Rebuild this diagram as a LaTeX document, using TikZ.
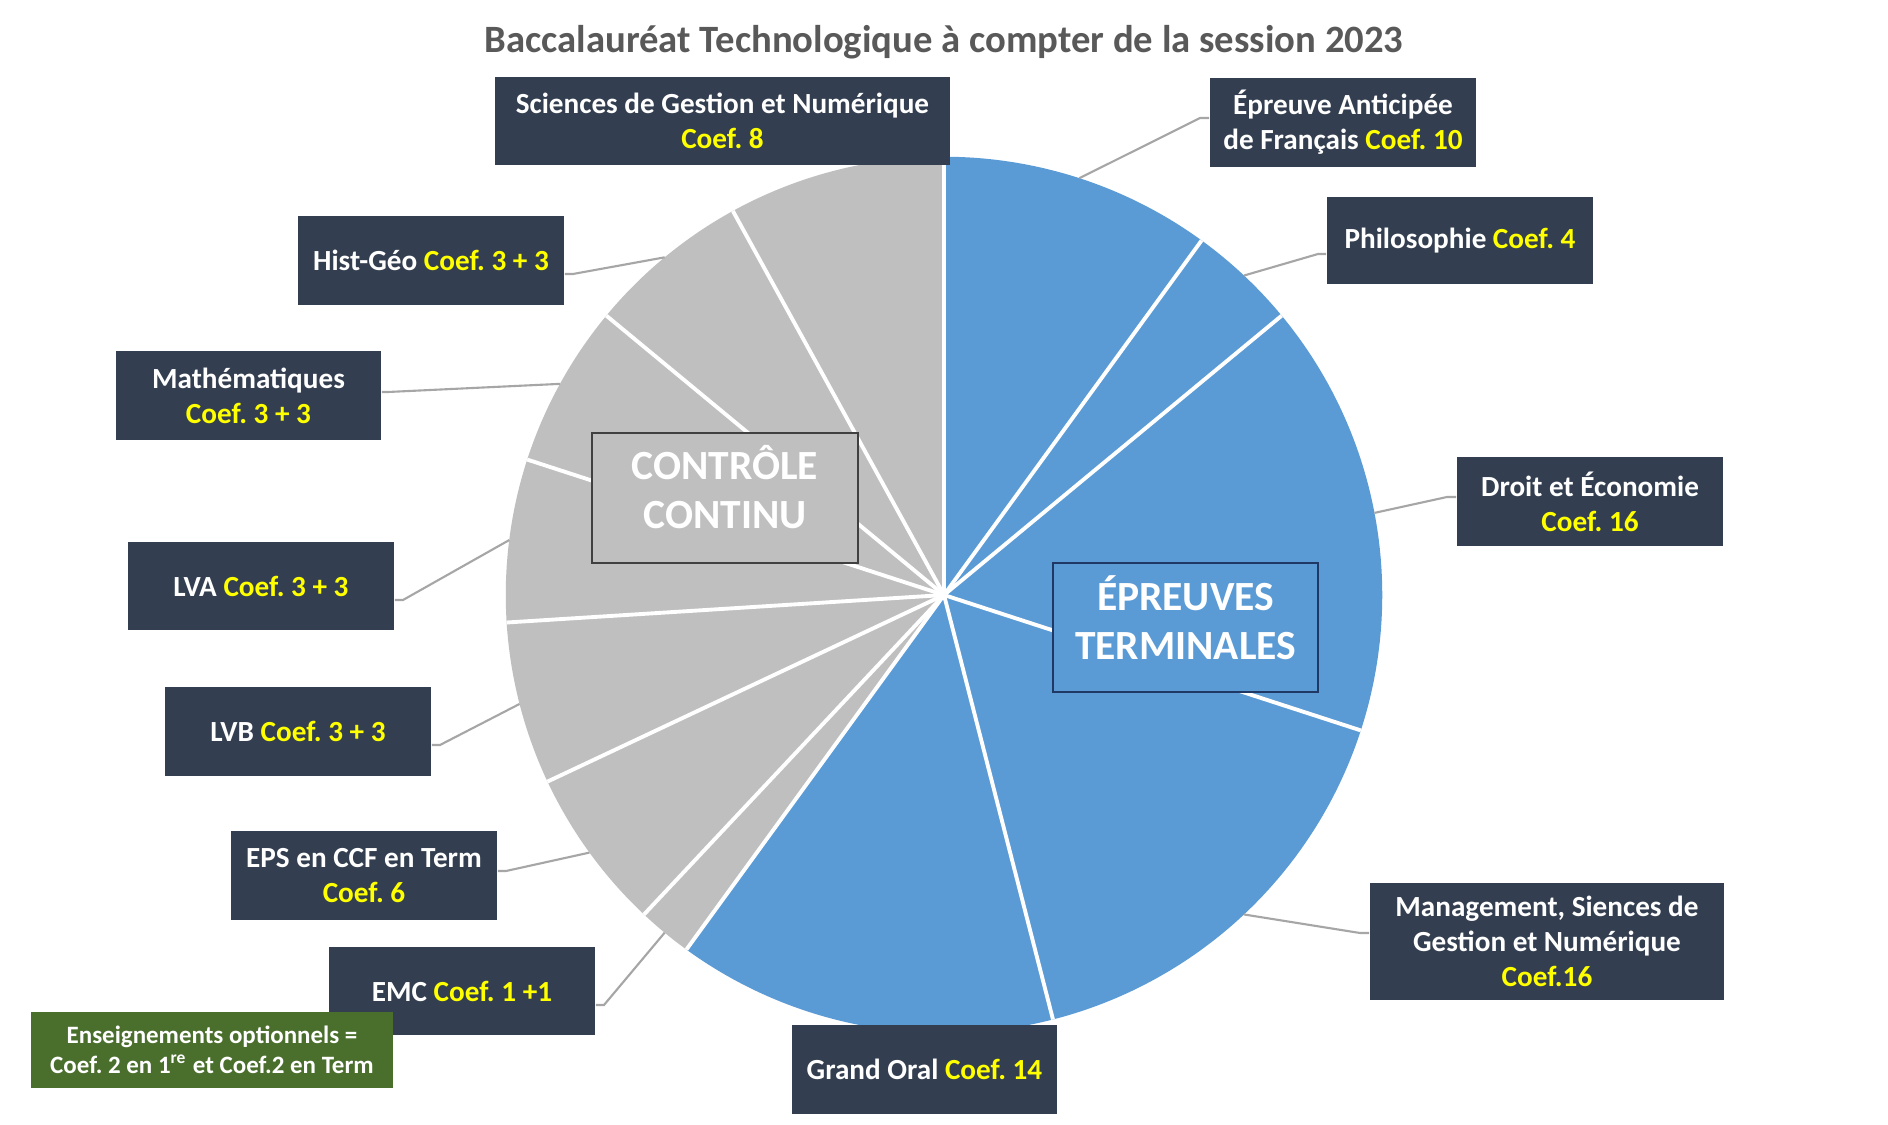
\documentclass[tikz,border=0pt]{standalone}
\usepackage{fontspec}
\setmainfont{Carlito}
\definecolor{piebl}{HTML}{5B9BD5}
\definecolor{piegr}{HTML}{BFBFBF}
\definecolor{lab}{HTML}{333F50}
\definecolor{yel}{HTML}{FFFF00}
\definecolor{grn}{HTML}{4A6E2C}
\definecolor{ttl}{HTML}{595959}
\definecolor{lead}{HTML}{A6A6A6}
\definecolor{etb}{HTML}{1F3864}
\definecolor{ccb}{HTML}{404040}
\newcommand{\cf}[1]{\textcolor{yel}{#1}}
\newcommand{\myslice}[3]{\fill[#3] (c) -- ++(#1:4.38cm) arc[start angle=#1, end angle=#2, radius=4.38cm] -- cycle;}
\frenchspacing
\begin{document}
\begin{tikzpicture}[x=0.01cm,y=0.01cm,
  lbl/.style={fill=lab, text=white, font=\bfseries\fontsize{8.3}{10}\selectfont, align=center, inner sep=0pt, minimum width=2.66cm, minimum height=0.89cm},
  leader/.style={draw=lead, line width=0.6pt},
  sepline/.style={draw=white, line width=1.1pt},
  bigbox/.style={inner sep=0pt, line width=0.6pt, minimum width=2.66cm, minimum height=1.30cm},
  bigtext/.style={text=white, font=\bfseries\fontsize{11.8}{14}\selectfont, align=center, inner sep=0pt}]
\useasboundingbox (0,0) rectangle (1888,-1125);
\fill[white] (0,0) rectangle (1888,-1125);

\node[text=ttl, font=\bfseries\fontsize{11}{13}\selectfont] (title) at (944,-42) {Baccalauréat Technologique à compter de la session 2023};

\coordinate (c) at (944,-595);
% pie slices
\myslice{90}{54}{piebl}
\myslice{54}{39.6}{piebl}
\myslice{39.6}{-18}{piebl}
\myslice{-18}{-75.6}{piebl}
\myslice{-75.6}{-126}{piebl}
\myslice{-126}{-133.2}{piegr}
\myslice{-133.2}{-154.8}{piegr}
\myslice{-154.8}{-176.4}{piegr}
\myslice{-176.4}{-198}{piegr}
\myslice{-198}{-219.6}{piegr}
\myslice{-219.6}{-241.2}{piegr}
\myslice{-241.2}{-270}{piegr}
\foreach \a in {90,54,39.6,-18,-75.6,-126,-133.2,-154.8,-176.4,-198,-219.6,-241.2}
  \draw[sepline] (c) -- ++(\a:4.38cm);

% centre labels
\node[bigbox, fill=piegr, draw=ccb] (cc) at (725,-498) {};
\node[bigtext] (ccT) at ([yshift=0.11cm]cc.center) {CONTRÔLE\\CONTINU};
\node[bigbox, fill=piebl, draw=etb, minimum width=2.65cm, minimum height=1.29cm] (et) at (1185.5,-627.5) {};
\node[bigtext] (etT) at ([yshift=0.10cm]et.center) {ÉPREUVES\\TERMINALES};

% label boxes
\node[lbl, minimum width=4.55cm, minimum height=0.88cm] (bSGN) at (722.5,-121) {Sciences de Gestion et Numérique\\\cf{Coef. 8}};
\node[lbl] (bFr) at (1343,-122.5) {Épreuve Anticipée\\de Français \cf{Coef. 10}};
\node[lbl, minimum height=0.87cm] (bPh) at (1460,-240.5) {Philosophie \cf{Coef. 4}};
\node[lbl] (bDr) at (1590,-501.5) {Droit et Économie\\\cf{Coef. 16}};
\node[lbl, minimum width=3.54cm, minimum height=1.17cm] (bMg) at (1547,-941.5) {Management, Siences de\\Gestion et Numérique\\\cf{Coef.16}};
\node[lbl, minimum width=2.65cm] (bGO) at (924.5,-1069.5) {Grand Oral \cf{Coef. 14}};
\node[lbl, minimum height=0.88cm] (bEMC) at (462,-991) {EMC \cf{Coef. 1 +1}};
\node[lbl] (bEPS) at (364,-875.5) {EPS en CCF en Term\\\cf{Coef. 6}};
\node[lbl] (bLVB) at (298,-731.5) {LVB \cf{Coef. 3 + 3}};
\node[lbl, minimum height=0.88cm] (bLVA) at (261,-586) {LVA \cf{Coef. 3 + 3}};
\node[lbl, minimum width=2.65cm] (bMa) at (248.5,-395.5) {Mathématiques\\\cf{Coef. 3 + 3}};
\node[lbl] (bHG) at (431,-260.5) {Hist-Géo \cf{Coef. 3 + 3}};
\node[fill=grn, text=white, font=\bfseries\fontsize{7.1}{8.6}\selectfont, align=center, inner sep=0pt, minimum width=3.62cm, minimum height=0.76cm] (opt) at (212,-1050) {Enseignements optionnels =\\Coef. 2 en 1\textsuperscript{re} et Coef.2 en Term};

% leader lines
\path (c) ++(72:4.38cm) coordinate (pFr);
\path (c) ++(46.8:4.38cm) coordinate (pPh);
\path (c) ++(10.8:4.38cm) coordinate (pDr);
\path (c) ++(-46.8:4.38cm) coordinate (pMg);
\path (c) ++(-129.6:4.38cm) coordinate (pEMC);
\path (c) ++(-144:4.38cm) coordinate (pEPS);
\path (c) ++(-165.6:4.38cm) coordinate (pLVB);
\path (c) ++(172.8:4.38cm) coordinate (pLVA);
\path (c) ++(151.2:4.38cm) coordinate (pMa);
\path (c) ++(129.6:4.38cm) coordinate (pHG);
\coordinate (eFr) at (1200,-118);
\coordinate (ePh) at (1318,-254);
\coordinate (eDr) at (1447,-497);
\coordinate (eMg) at (1360,-933);
\coordinate (eEMC) at (604,-1005);
\coordinate (eEPS) at (506,-871);
\coordinate (eLVB) at (440,-745);
\coordinate (eLVA) at (403,-600);
\coordinate (eMa) at (388,-392);
\coordinate (eHG) at (573,-274);
\draw[leader] (pFr) -- (eFr) -- (eFr -| bFr.west);
\draw[leader] (pPh) -- (ePh) -- (ePh -| bPh.west);
\draw[leader] (pDr) -- (eDr) -- (eDr -| bDr.west);
\draw[leader] (pMg) -- (eMg) -- (eMg -| bMg.west);
\draw[leader] (pEMC) -- (eEMC) -- (eEMC -| bEMC.east);
\draw[leader] (pEPS) -- (eEPS) -- (eEPS -| bEPS.east);
\draw[leader] (pLVB) -- (eLVB) -- (eLVB -| bLVB.east);
\draw[leader] (pLVA) -- (eLVA) -- (eLVA -| bLVA.east);
\draw[leader] (pMa) -- (eMa) -- (eMa -| bMa.east);
\draw[leader] (pHG) -- (eHG) -- (eHG -| bHG.east);
\end{tikzpicture}
\end{document}
